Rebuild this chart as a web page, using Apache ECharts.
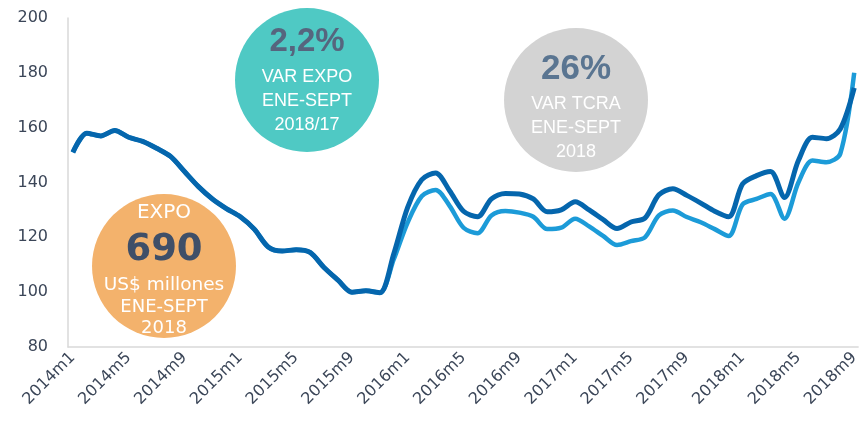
<!DOCTYPE html>
<html>
<head>
<meta charset="utf-8">
<script src="https://cdn.jsdelivr.net/npm/echarts@6/dist/echarts.min.js"></script>
<style>html,body{margin:0;padding:0;background:#fff}#c{width:862px;height:425px}</style>
</head>
<body>
<div id="c"></div>
<script>
const categories = [
 '2014m1','2014m2','2014m3','2014m4','2014m5','2014m6','2014m7','2014m8','2014m9','2014m10','2014m11','2014m12',
 '2015m1','2015m2','2015m3','2015m4','2015m5','2015m6','2015m7','2015m8','2015m9','2015m10','2015m11','2015m12',
 '2016m1','2016m2','2016m3','2016m4','2016m5','2016m6','2016m7','2016m8','2016m9','2016m10','2016m11','2016m12',
 '2017m1','2017m2','2017m3','2017m4','2017m5','2017m6','2017m7','2017m8','2017m9','2017m10','2017m11','2017m12',
 '2018m1','2018m2','2018m3','2018m4','2018m5','2018m6','2018m7','2018m8','2018m9'];
const darkSeries = [151,158,157,159,156.5,155,152.5,149.5,144,138.5,134,130.5,
 127.5,123,116.5,115,115.5,114.5,109,104.4,100,100.5,99.8,114,
 131,141,143.5,137,129.5,127.5,134,136,135.8,134,129.3,130,
 133,130,126.5,123.2,125.6,127,135.5,137.7,135.3,132.5,129.5,127.5,
 139.5,142.5,144,134.5,148,156.5,156,159.5,174.5];
const lightSeries = [151,158,157,159,156.5,155,152.5,149.5,144,138.5,134,130.5,
 127.5,123,116.5,115,115.5,114.5,109,104.4,100,100.5,99.8,112,
 125.5,135,137.3,131.5,123.5,121.5,128,129.6,129,127.5,123,123.5,
 126.8,124,120.5,117.2,118.6,120,128,129.8,127.4,125.5,123,120.5,
 132,134,135.8,126.8,140,148,147.4,150.5,180];
const labelTicks = [0,4,8,12,16,20,24,28,32,36,40,44,48,52,56];
const yTicks = {min:80, max:200, interval:20};
const tealText = ['2,2%','VAR EXPO','ENE-SEPT','2018/17'];
const greyText = ['26%','VAR TCRA','ENE-SEPT','2018'];
const orangeText = ['EXPO','690','US$ millones','ENE-SEPT','2018'];

const toPairs = arr => arr.map((v,i)=>[i,v]);
const AX = '#3b4658';
function txt(t,x,y,size,color,weight,family){
  return {type:'text', z:10, style:{text:t, x:x, y:y, fill:color,
    font:(weight||'normal')+' '+size+'px '+(family||'"Liberation Sans", Arial, sans-serif'),
    textAlign:'center', textVerticalAlign:'middle', align:'center', verticalAlign:'middle'}};
}
const chart = echarts.init(document.getElementById('c'), null, {renderer:'canvas'});
chart.setOption({
  animation:false,
  grid:{left:68, right:0, top:18, bottom:78, containLabel:false},
  xAxis:{type:'value', min:-0.35, max:56.28,
    axisLine:{show:true, onZero:false, lineStyle:{color:'#d9d9d9', width:1.5}},
    axisTick:{show:false}, splitLine:{show:false},
    axisLabel:{customValues:labelTicks, rotate:45, margin:8, color:AX,
      fontFamily:'"DejaVu Sans", sans-serif', fontSize:16,
      formatter:v=>categories[Math.round(v)]}},
  yAxis:{type:'value', min:yTicks.min, max:yTicks.max, interval:yTicks.interval,
    axisLine:{show:true, onZero:false, lineStyle:{color:'#d9d9d9', width:1.5}},
    axisTick:{show:false}, splitLine:{show:false},
    axisLabel:{margin:20, color:AX, fontFamily:'"DejaVu Sans", sans-serif', fontSize:16}},
  series:[
    {type:'line', data:toPairs(lightSeries), smooth:0.3, showSymbol:false, z:2,
      lineStyle:{color:'#1c9bd8', width:4.5}},
    {type:'line', data:toPairs(darkSeries), smooth:0.3, showSymbol:false, z:3,
      lineStyle:{color:'#0566ad', width:5}}
  ],
  graphic:[
    {type:'circle', z:5, shape:{cx:307, cy:80, r:72}, style:{fill:'#4fc9c4'}},
    txt(tealText[0],307,42,33,'#56657e','bold'),
    txt(tealText[1],307,77,18,'#ffffff'),
    txt(tealText[2],307,101,18,'#ffffff'),
    txt(tealText[3],307,125,18,'#ffffff'),
    {type:'circle', z:5, shape:{cx:576, cy:100, r:72}, style:{fill:'#d3d3d3'}},
    txt(greyText[0],576,69,35,'#5a7591','bold'),
    txt(greyText[1],576,104,18,'#ffffff'),
    txt(greyText[2],576,128,18,'#ffffff'),
    txt(greyText[3],576,152,18,'#ffffff'),
    {type:'circle', z:5, shape:{cx:164, cy:266, r:72}, style:{fill:'#f3b26c'}},
    txt(orangeText[0],164,213,20,'#ffffff','normal','"DejaVu Sans", sans-serif'),
    txt(orangeText[1],164,250,37,'#3f4f68','bold','"DejaVu Sans", sans-serif'),
    txt(orangeText[2],164,285,18.5,'#ffffff','normal','"DejaVu Sans", sans-serif'),
    txt(orangeText[3],164,307,18,'#ffffff','normal','"DejaVu Sans", sans-serif'),
    txt(orangeText[4],164,328,18,'#ffffff','normal','"DejaVu Sans", sans-serif')
  ]
});
</script>
</body>
</html>
